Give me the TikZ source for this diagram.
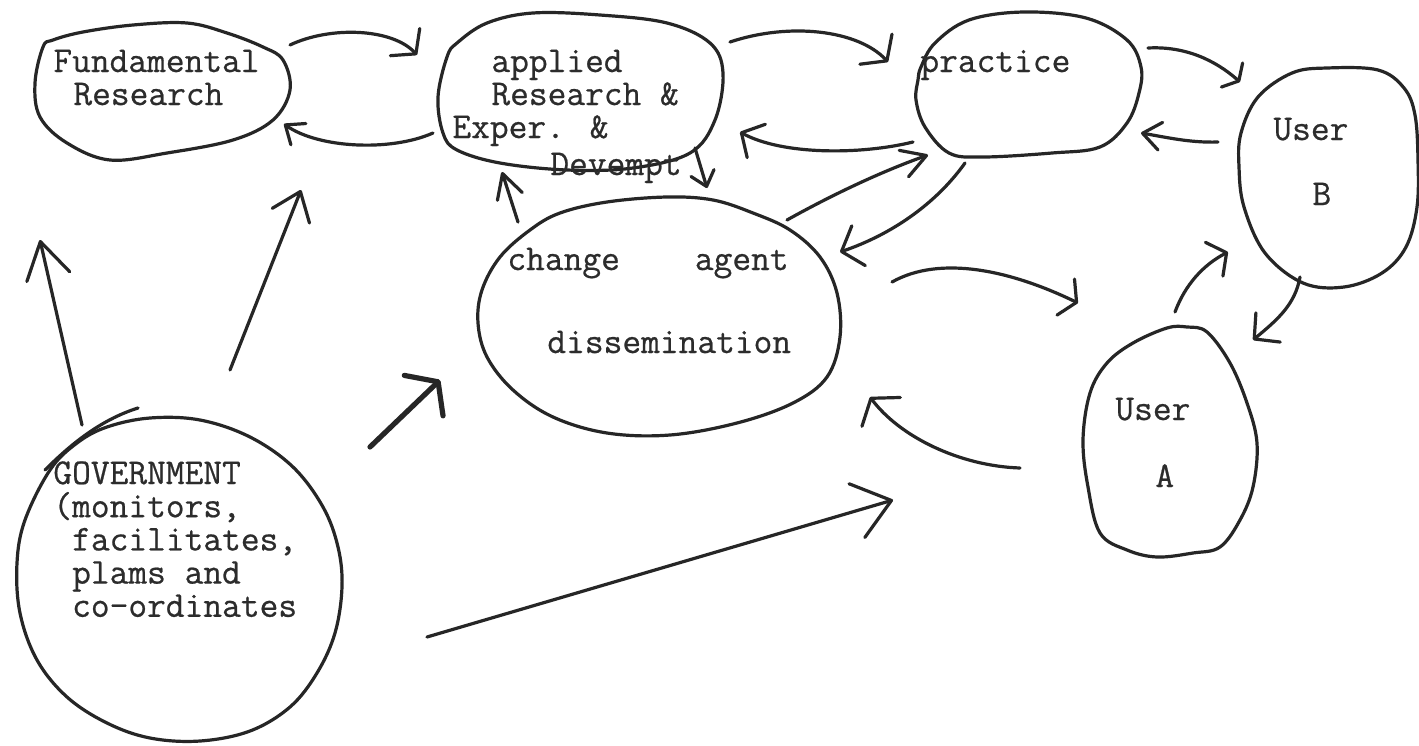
\documentclass[tikz,border=0pt]{standalone}
\usepackage{fontspec}
\usetikzlibrary{arrows.meta}
\newfontfamily\typewriter{Latin Modern Mono}[FakeBold=0.6]
\definecolor{ink}{HTML}{262626}
\definecolor{typeink}{HTML}{2C2C2C}
\tikzset{
  hand/.style={draw=ink, line width=1.6pt, line cap=round, line join=round},
  barb/.style 2 args={-{Straight Barb[length=#1,width=#2,line cap=round,line join=round]}},
  typed/.style={anchor=base west, inner sep=0pt, text=typeink,
    font=\typewriter\fontsize{18.2}{16.5}\selectfont},
}
% a block of typed lines at a fixed line pitch; its baseline is the first line's
\newcommand\typedblock[1]{\vtop{\baselineskip=16.6pt\lineskiplimit=-\maxdimen\lineskip=0pt #1}}
\begin{document}
\begin{tikzpicture}[x=0.5pt,y=-0.5pt]
\fill[white] (0,0) rectangle (1419,745);
\useasboundingbox (0,0) rectangle (1419,745);

% ---------- hand-drawn outlines ----------
\draw[hand] plot[smooth cycle, tension=0.6] coordinates {
  (43,47) (35,83) (40,117) (67,143) (110,160) (167,153) (233,140) (273,120)
  (290,90) (283,60) (263,47) (227,33) (187,23) (133,25) (83,32) (53,40)};
\draw[hand] plot[smooth cycle, tension=0.6] coordinates {
  (447,57) (438,97) (443,133) (457,150) (500,163) (567,170) (633,168) (690,153)
  (715,120) (723,73) (710,43) (667,23) (600,15) (533,13) (487,23) (457,43)};
\draw[hand] plot[smooth cycle, tension=0.6] coordinates {
  (918,80) (916,100) (925,127) (949,153) (983,157) (1052,153) (1100,147) (1127,123)
  (1139,93) (1141,67) (1127,40) (1086,18) (1024,12) (969,20) (935,43) (921,67)};
\draw[hand] plot[smooth cycle, tension=0.6] coordinates {
  (1241,133) (1239,167) (1244,207) (1265,253) (1303,283) (1344,287) (1382,273)
  (1406,247) (1417,207) (1418,160) (1415,115) (1404,88) (1378,70) (1327,68)
  (1292,73) (1258,97)};
\draw[hand] plot[smooth cycle, tension=0.6] coordinates {
  (530,230) (500,257) (482,290) (478,323) (487,357) (513,390) (553,417) (607,433)
  (670,435) (737,423) (793,403) (827,377) (840,337) (837,293) (820,257) (790,230)
  (753,213) (713,200) (667,197) (607,202) (560,213)};
\draw[hand] plot[smooth cycle, tension=0.6] coordinates {
  (1167,328) (1133,343) (1107,363) (1090,393) (1083,440) (1088,487) (1100,533)
  (1127,550) (1157,557) (1193,553) (1220,547) (1240,520) (1253,487) (1257,443)
  (1247,403) (1230,363) (1207,332) (1187,327)};
\draw[hand] plot[smooth cycle, tension=0.6] coordinates {
  (50,470) (77,443) (107,427) (150,418) (200,420) (250,437) (293,467) (323,507)
  (338,547) (342,587) (335,633) (317,673) (290,707) (250,731) (200,741) (150,738)
  (107,723) (67,697) (37,660) (20,613) (17,563) (25,520)};
\draw[hand] (45,470) .. controls (70,445) and (100,420) .. (138,408);

% ---------- typed labels ----------
\node[typed] (fr1) at (53,72) {Fundamental};
\node[typed] (fr2) at (73,105) {Research};
\node[typed] (ar1) at (491,72) {applied};
\node[typed] (ar2) at (491,105) {Research \&};
\node[typed] (ar3) at (452,138) {Exper. \&};
\node[typed] (ar4) at (550,175) {Devempt};
\node[typed] (pr1) at (920,72) {practice};
\node[typed] (ub1) at (1273,140) {User};
\node[typed] (ub2) at (1312,205) {B};
\node[typed] (ca1) at (507,270) {change\ \ \ \ agent};
\node[typed] (ca2) at (547,353) {dissemination};
\node[typed] (ua1) at (1115,420) {User};
\node[typed] (ua2) at (1155,487) {A};
\node[typed] (gov) at (53,484) {\typedblock{%
  \hbox{GOVERNMENT}
  \hbox{(monitors,}
  \hbox{\ facilitates,}
  \hbox{\ plams and}
  \hbox{\ co-ordinates}}};

% ---------- connector end points ----------
\coordinate (f2a-s) at (290,45);   \coordinate (f2a-e) at (417,55);
\coordinate (a2f-s) at (433,133);  \coordinate (a2f-e) at (284,124);
\coordinate (a2p-s) at (730,42);   \coordinate (a2p-e) at (888,62);
\coordinate (p2a-s) at (913,142);  \coordinate (p2a-e) at (740,132);
\coordinate (a2c-s) at (695,148);  \coordinate (a2c-e) at (707,188);
\coordinate (c2a-s) at (518,222);  \coordinate (c2a-e) at (502,172);
\coordinate (c2p-s) at (787,220);  \coordinate (c2p-e) at (928,155);
\coordinate (p2c-s) at (965,163);  \coordinate (p2c-e) at (840,252);
\coordinate (c2u-s) at (892,282);  \coordinate (c2u-e) at (1078,303);
\coordinate (u2c-s) at (1020,468); \coordinate (u2c-e) at (870,397);
\coordinate (p2b-s) at (1148,48);  \coordinate (p2b-e) at (1240,82);
\coordinate (b2p-s) at (1218,142); \coordinate (b2p-e) at (1141,133);
\coordinate (a2b-s) at (1175,312); \coordinate (a2b-e) at (1228,252);
\coordinate (b2u-s) at (1300,277); \coordinate (b2u-e) at (1253,340);
\coordinate (g2f-s) at (82,425);   \coordinate (g2f-e) at (40,240);
\coordinate (g2r-s) at (230,370);  \coordinate (g2r-e) at (301,190);
\coordinate (g2c-s) at (370,447);  \coordinate (g2c-e) at (440,380);
\coordinate (g2l-s) at (427,637);  \coordinate (g2l-e) at (893,500);

% ---------- connectors ----------
\draw[hand, barb={8pt}{20pt}] (f2a-s) .. controls (330,26) and (392,28) .. (f2a-e);
\draw[hand, barb={8pt}{13pt}] (a2f-s) .. controls (390,152) and (318,148) .. (a2f-e);
\draw[hand, barb={8pt}{22pt}] (a2p-s) .. controls (790,22) and (858,30) .. (a2p-e);
\draw[hand, barb={8.5pt}{19pt}] (p2a-s) .. controls (860,155) and (782,155) .. (p2a-e);
\draw[hand, barb={7pt}{12pt}] (a2c-s) -- (a2c-e);
\draw[hand, barb={12pt}{13pt}] (c2a-s) -- (c2a-e);
\draw[hand, barb={12pt}{14pt}] (c2p-s) .. controls (830,196) and (880,172) .. (c2p-e);
\draw[hand, barb={9pt}{21pt}] (p2c-s) .. controls (935,205) and (890,235) .. (p2c-e);
\draw[hand, barb={6pt}{20pt}] (c2u-s) .. controls (940,255) and (1010,270) .. (c2u-e);
\draw[hand, barb={8.5pt}{24pt}] (u2c-s) .. controls (960,466) and (900,437) .. (u2c-e);
\draw[hand, barb={4.5pt}{16pt}] (p2b-s) .. controls (1185,46) and (1215,60) .. (p2b-e);
\draw[hand, barb={9pt}{14pt}] (b2p-s) .. controls (1190,143) and (1165,137) .. (b2p-e);
\draw[hand, barb={7pt}{19pt}] (a2b-s) .. controls (1185,285) and (1203,265) .. (a2b-e);
\draw[hand, barb={9pt}{19pt}] (b2u-s) .. controls (1295,305) and (1277,320) .. (b2u-e);
\draw[hand, barb={18pt}{22pt}] (g2f-s) -- (g2f-e);
\draw[hand, barb={13pt}{20pt}] (g2r-s) -- (g2r-e);
\draw[hand, line width=2.6pt, barb={10pt}{28pt}] (g2c-s) -- (g2c-e);
\draw[hand, barb={18pt}{28pt}] (g2l-s) -- (g2l-e);
\end{tikzpicture}
\end{document}
